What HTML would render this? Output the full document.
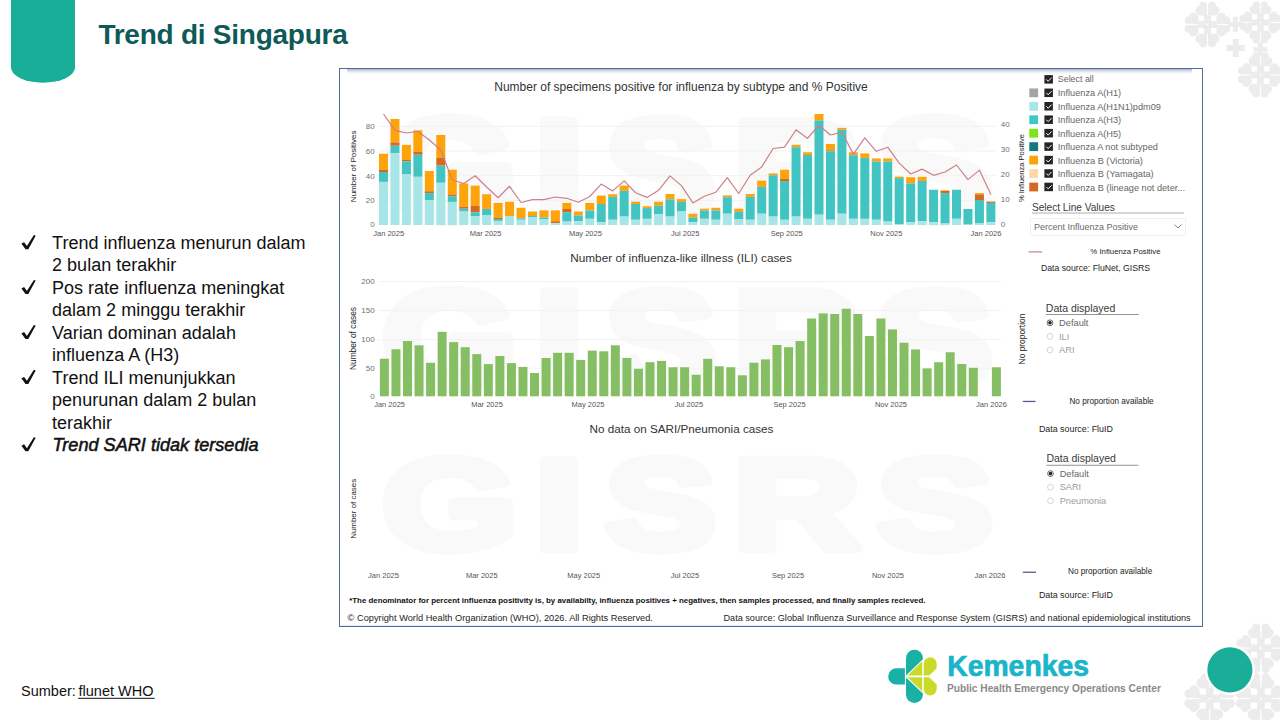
<!DOCTYPE html><html><head><meta charset="utf-8"><style>html,body{margin:0;padding:0;background:#fff;width:1280px;height:720px;overflow:hidden}svg{display:block}text{font-family:"Liberation Sans",sans-serif}</style></head><body>
<svg width="1280" height="720" viewBox="0 0 1280 720">
<defs><linearGradient id="topsh" x1="0" y1="0" x2="0" y2="1"><stop offset="0" stop-color="#a9b3cc"/><stop offset="1" stop-color="#ffffff" stop-opacity="0"/></linearGradient><linearGradient id="topsh2" x1="0" y1="0" x2="1" y2="0"><stop offset="0" stop-color="#ffffff" stop-opacity="0"/><stop offset="1" stop-color="#c4cbdf" stop-opacity="0.8"/></linearGradient></defs>
<g transform="translate(1207.5,24.5) scale(0.87)"><circle cx="21.50" cy="-5.00" r="4.6" fill="#ececec"/><circle cx="21.50" cy="5.00" r="4.6" fill="#ececec"/><circle cx="16.26" cy="9.19" r="4.6" fill="#ececec"/><circle cx="9.19" cy="16.26" r="4.6" fill="#ececec"/><circle cx="5.00" cy="21.50" r="4.6" fill="#ececec"/><circle cx="-5.00" cy="21.50" r="4.6" fill="#ececec"/><circle cx="-9.19" cy="16.26" r="4.6" fill="#ececec"/><circle cx="-16.26" cy="9.19" r="4.6" fill="#ececec"/><circle cx="-21.50" cy="5.00" r="4.6" fill="#ececec"/><circle cx="-21.50" cy="-5.00" r="4.6" fill="#ececec"/><circle cx="-16.26" cy="-9.19" r="4.6" fill="#ececec"/><circle cx="-9.19" cy="-16.26" r="4.6" fill="#ececec"/><circle cx="-5.00" cy="-21.50" r="4.6" fill="#ececec"/><circle cx="5.00" cy="-21.50" r="4.6" fill="#ececec"/><circle cx="9.19" cy="-16.26" r="4.6" fill="#ececec"/><circle cx="16.26" cy="-9.19" r="4.6" fill="#ececec"/><circle cx="0" cy="0" r="18.5" fill="#ececec"/><rect x="-10.40" y="-10.40" width="6.4" height="6.4" fill="#fff"/><rect x="4.00" y="-10.40" width="6.4" height="6.4" fill="#fff"/><rect x="-10.40" y="4.00" width="6.4" height="6.4" fill="#fff"/><rect x="4.00" y="4.00" width="6.4" height="6.4" fill="#fff"/><line x1="11.00" y1="0.00" x2="28.00" y2="0.00" stroke="#fff" stroke-width="1.1"/><line x1="7.78" y1="7.78" x2="19.80" y2="19.80" stroke="#fff" stroke-width="1.1"/><line x1="0.00" y1="11.00" x2="0.00" y2="28.00" stroke="#fff" stroke-width="1.1"/><line x1="-7.78" y1="7.78" x2="-19.80" y2="19.80" stroke="#fff" stroke-width="1.1"/><line x1="-11.00" y1="0.00" x2="-28.00" y2="0.00" stroke="#fff" stroke-width="1.1"/><line x1="-7.78" y1="-7.78" x2="-19.80" y2="-19.80" stroke="#fff" stroke-width="1.1"/><line x1="-0.00" y1="-11.00" x2="-0.00" y2="-28.00" stroke="#fff" stroke-width="1.1"/><line x1="7.78" y1="-7.78" x2="19.80" y2="-19.80" stroke="#fff" stroke-width="1.1"/><circle cx="0" cy="0" r="1.2" fill="#fff"/></g>
<g transform="translate(1260.4,22.5) scale(0.8)"><circle cx="21.50" cy="-5.00" r="4.6" fill="#ececec"/><circle cx="21.50" cy="5.00" r="4.6" fill="#ececec"/><circle cx="16.26" cy="9.19" r="4.6" fill="#ececec"/><circle cx="9.19" cy="16.26" r="4.6" fill="#ececec"/><circle cx="5.00" cy="21.50" r="4.6" fill="#ececec"/><circle cx="-5.00" cy="21.50" r="4.6" fill="#ececec"/><circle cx="-9.19" cy="16.26" r="4.6" fill="#ececec"/><circle cx="-16.26" cy="9.19" r="4.6" fill="#ececec"/><circle cx="-21.50" cy="5.00" r="4.6" fill="#ececec"/><circle cx="-21.50" cy="-5.00" r="4.6" fill="#ececec"/><circle cx="-16.26" cy="-9.19" r="4.6" fill="#ececec"/><circle cx="-9.19" cy="-16.26" r="4.6" fill="#ececec"/><circle cx="-5.00" cy="-21.50" r="4.6" fill="#ececec"/><circle cx="5.00" cy="-21.50" r="4.6" fill="#ececec"/><circle cx="9.19" cy="-16.26" r="4.6" fill="#ececec"/><circle cx="16.26" cy="-9.19" r="4.6" fill="#ececec"/><circle cx="0" cy="0" r="18.5" fill="#ececec"/><rect x="-10.40" y="-10.40" width="6.4" height="6.4" fill="#fff"/><rect x="4.00" y="-10.40" width="6.4" height="6.4" fill="#fff"/><rect x="-10.40" y="4.00" width="6.4" height="6.4" fill="#fff"/><rect x="4.00" y="4.00" width="6.4" height="6.4" fill="#fff"/><line x1="11.00" y1="0.00" x2="28.00" y2="0.00" stroke="#fff" stroke-width="1.1"/><line x1="7.78" y1="7.78" x2="19.80" y2="19.80" stroke="#fff" stroke-width="1.1"/><line x1="0.00" y1="11.00" x2="0.00" y2="28.00" stroke="#fff" stroke-width="1.1"/><line x1="-7.78" y1="7.78" x2="-19.80" y2="19.80" stroke="#fff" stroke-width="1.1"/><line x1="-11.00" y1="0.00" x2="-28.00" y2="0.00" stroke="#fff" stroke-width="1.1"/><line x1="-7.78" y1="-7.78" x2="-19.80" y2="-19.80" stroke="#fff" stroke-width="1.1"/><line x1="-0.00" y1="-11.00" x2="-0.00" y2="-28.00" stroke="#fff" stroke-width="1.1"/><line x1="7.78" y1="-7.78" x2="19.80" y2="-19.80" stroke="#fff" stroke-width="1.1"/><circle cx="0" cy="0" r="1.2" fill="#fff"/></g>
<g transform="translate(1260.4,75) scale(0.86)"><circle cx="21.50" cy="-5.00" r="4.6" fill="#ececec"/><circle cx="21.50" cy="5.00" r="4.6" fill="#ececec"/><circle cx="16.26" cy="9.19" r="4.6" fill="#ececec"/><circle cx="9.19" cy="16.26" r="4.6" fill="#ececec"/><circle cx="5.00" cy="21.50" r="4.6" fill="#ececec"/><circle cx="-5.00" cy="21.50" r="4.6" fill="#ececec"/><circle cx="-9.19" cy="16.26" r="4.6" fill="#ececec"/><circle cx="-16.26" cy="9.19" r="4.6" fill="#ececec"/><circle cx="-21.50" cy="5.00" r="4.6" fill="#ececec"/><circle cx="-21.50" cy="-5.00" r="4.6" fill="#ececec"/><circle cx="-16.26" cy="-9.19" r="4.6" fill="#ececec"/><circle cx="-9.19" cy="-16.26" r="4.6" fill="#ececec"/><circle cx="-5.00" cy="-21.50" r="4.6" fill="#ececec"/><circle cx="5.00" cy="-21.50" r="4.6" fill="#ececec"/><circle cx="9.19" cy="-16.26" r="4.6" fill="#ececec"/><circle cx="16.26" cy="-9.19" r="4.6" fill="#ececec"/><circle cx="0" cy="0" r="18.5" fill="#ececec"/><rect x="-10.40" y="-10.40" width="6.4" height="6.4" fill="#fff"/><rect x="4.00" y="-10.40" width="6.4" height="6.4" fill="#fff"/><rect x="-10.40" y="4.00" width="6.4" height="6.4" fill="#fff"/><rect x="4.00" y="4.00" width="6.4" height="6.4" fill="#fff"/><line x1="11.00" y1="0.00" x2="28.00" y2="0.00" stroke="#fff" stroke-width="1.1"/><line x1="7.78" y1="7.78" x2="19.80" y2="19.80" stroke="#fff" stroke-width="1.1"/><line x1="0.00" y1="11.00" x2="0.00" y2="28.00" stroke="#fff" stroke-width="1.1"/><line x1="-7.78" y1="7.78" x2="-19.80" y2="19.80" stroke="#fff" stroke-width="1.1"/><line x1="-11.00" y1="0.00" x2="-28.00" y2="0.00" stroke="#fff" stroke-width="1.1"/><line x1="-7.78" y1="-7.78" x2="-19.80" y2="-19.80" stroke="#fff" stroke-width="1.1"/><line x1="-0.00" y1="-11.00" x2="-0.00" y2="-28.00" stroke="#fff" stroke-width="1.1"/><line x1="7.78" y1="-7.78" x2="19.80" y2="-19.80" stroke="#fff" stroke-width="1.1"/><circle cx="0" cy="0" r="1.2" fill="#fff"/></g>
<path d="M1232.9,16.7h5.0v5.0h5.0v5.0h-5.0v5.0h-5.0v-5.0h-5.0v-5.0h5.0z" fill="#ececec"/>
<path d="M1232.7,39.1h6.0v6.0h6.0v6.0h-6.0v6.0h-6.0v-6.0h-6.0v-6.0h6.0z" fill="#ececec"/>
<path d="M1258.0666666666668,42.5h4.666666666666667v4.666666666666667h4.666666666666667v4.666666666666667h-4.666666666666667v4.666666666666667h-4.666666666666667v-4.666666666666667h-4.666666666666667v-4.666666666666667h4.666666666666667z" fill="#ececec"/>
<g transform="translate(1260.9,648.2) scale(0.95)"><circle cx="21.50" cy="-5.00" r="4.6" fill="#ececec"/><circle cx="21.50" cy="5.00" r="4.6" fill="#ececec"/><circle cx="16.26" cy="9.19" r="4.6" fill="#ececec"/><circle cx="9.19" cy="16.26" r="4.6" fill="#ececec"/><circle cx="5.00" cy="21.50" r="4.6" fill="#ececec"/><circle cx="-5.00" cy="21.50" r="4.6" fill="#ececec"/><circle cx="-9.19" cy="16.26" r="4.6" fill="#ececec"/><circle cx="-16.26" cy="9.19" r="4.6" fill="#ececec"/><circle cx="-21.50" cy="5.00" r="4.6" fill="#ececec"/><circle cx="-21.50" cy="-5.00" r="4.6" fill="#ececec"/><circle cx="-16.26" cy="-9.19" r="4.6" fill="#ececec"/><circle cx="-9.19" cy="-16.26" r="4.6" fill="#ececec"/><circle cx="-5.00" cy="-21.50" r="4.6" fill="#ececec"/><circle cx="5.00" cy="-21.50" r="4.6" fill="#ececec"/><circle cx="9.19" cy="-16.26" r="4.6" fill="#ececec"/><circle cx="16.26" cy="-9.19" r="4.6" fill="#ececec"/><circle cx="0" cy="0" r="18.5" fill="#ececec"/><rect x="-10.40" y="-10.40" width="6.4" height="6.4" fill="#fff"/><rect x="4.00" y="-10.40" width="6.4" height="6.4" fill="#fff"/><rect x="-10.40" y="4.00" width="6.4" height="6.4" fill="#fff"/><rect x="4.00" y="4.00" width="6.4" height="6.4" fill="#fff"/><line x1="11.00" y1="0.00" x2="28.00" y2="0.00" stroke="#fff" stroke-width="1.1"/><line x1="7.78" y1="7.78" x2="19.80" y2="19.80" stroke="#fff" stroke-width="1.1"/><line x1="0.00" y1="11.00" x2="0.00" y2="28.00" stroke="#fff" stroke-width="1.1"/><line x1="-7.78" y1="7.78" x2="-19.80" y2="19.80" stroke="#fff" stroke-width="1.1"/><line x1="-11.00" y1="0.00" x2="-28.00" y2="0.00" stroke="#fff" stroke-width="1.1"/><line x1="-7.78" y1="-7.78" x2="-19.80" y2="-19.80" stroke="#fff" stroke-width="1.1"/><line x1="-0.00" y1="-11.00" x2="-0.00" y2="-28.00" stroke="#fff" stroke-width="1.1"/><line x1="7.78" y1="-7.78" x2="19.80" y2="-19.80" stroke="#fff" stroke-width="1.1"/><circle cx="0" cy="0" r="1.2" fill="#fff"/></g>
<g transform="translate(1209.7,698.6) scale(0.97)"><circle cx="21.50" cy="-5.00" r="4.6" fill="#ececec"/><circle cx="21.50" cy="5.00" r="4.6" fill="#ececec"/><circle cx="16.26" cy="9.19" r="4.6" fill="#ececec"/><circle cx="9.19" cy="16.26" r="4.6" fill="#ececec"/><circle cx="5.00" cy="21.50" r="4.6" fill="#ececec"/><circle cx="-5.00" cy="21.50" r="4.6" fill="#ececec"/><circle cx="-9.19" cy="16.26" r="4.6" fill="#ececec"/><circle cx="-16.26" cy="9.19" r="4.6" fill="#ececec"/><circle cx="-21.50" cy="5.00" r="4.6" fill="#ececec"/><circle cx="-21.50" cy="-5.00" r="4.6" fill="#ececec"/><circle cx="-16.26" cy="-9.19" r="4.6" fill="#ececec"/><circle cx="-9.19" cy="-16.26" r="4.6" fill="#ececec"/><circle cx="-5.00" cy="-21.50" r="4.6" fill="#ececec"/><circle cx="5.00" cy="-21.50" r="4.6" fill="#ececec"/><circle cx="9.19" cy="-16.26" r="4.6" fill="#ececec"/><circle cx="16.26" cy="-9.19" r="4.6" fill="#ececec"/><circle cx="0" cy="0" r="18.5" fill="#ececec"/><rect x="-10.40" y="-10.40" width="6.4" height="6.4" fill="#fff"/><rect x="4.00" y="-10.40" width="6.4" height="6.4" fill="#fff"/><rect x="-10.40" y="4.00" width="6.4" height="6.4" fill="#fff"/><rect x="4.00" y="4.00" width="6.4" height="6.4" fill="#fff"/><line x1="11.00" y1="0.00" x2="28.00" y2="0.00" stroke="#fff" stroke-width="1.1"/><line x1="7.78" y1="7.78" x2="19.80" y2="19.80" stroke="#fff" stroke-width="1.1"/><line x1="0.00" y1="11.00" x2="0.00" y2="28.00" stroke="#fff" stroke-width="1.1"/><line x1="-7.78" y1="7.78" x2="-19.80" y2="19.80" stroke="#fff" stroke-width="1.1"/><line x1="-11.00" y1="0.00" x2="-28.00" y2="0.00" stroke="#fff" stroke-width="1.1"/><line x1="-7.78" y1="-7.78" x2="-19.80" y2="-19.80" stroke="#fff" stroke-width="1.1"/><line x1="-0.00" y1="-11.00" x2="-0.00" y2="-28.00" stroke="#fff" stroke-width="1.1"/><line x1="7.78" y1="-7.78" x2="19.80" y2="-19.80" stroke="#fff" stroke-width="1.1"/><circle cx="0" cy="0" r="1.2" fill="#fff"/></g>
<g transform="translate(1260.9,698.6) scale(0.97)"><circle cx="21.50" cy="-5.00" r="4.6" fill="#ececec"/><circle cx="21.50" cy="5.00" r="4.6" fill="#ececec"/><circle cx="16.26" cy="9.19" r="4.6" fill="#ececec"/><circle cx="9.19" cy="16.26" r="4.6" fill="#ececec"/><circle cx="5.00" cy="21.50" r="4.6" fill="#ececec"/><circle cx="-5.00" cy="21.50" r="4.6" fill="#ececec"/><circle cx="-9.19" cy="16.26" r="4.6" fill="#ececec"/><circle cx="-16.26" cy="9.19" r="4.6" fill="#ececec"/><circle cx="-21.50" cy="5.00" r="4.6" fill="#ececec"/><circle cx="-21.50" cy="-5.00" r="4.6" fill="#ececec"/><circle cx="-16.26" cy="-9.19" r="4.6" fill="#ececec"/><circle cx="-9.19" cy="-16.26" r="4.6" fill="#ececec"/><circle cx="-5.00" cy="-21.50" r="4.6" fill="#ececec"/><circle cx="5.00" cy="-21.50" r="4.6" fill="#ececec"/><circle cx="9.19" cy="-16.26" r="4.6" fill="#ececec"/><circle cx="16.26" cy="-9.19" r="4.6" fill="#ececec"/><circle cx="0" cy="0" r="18.5" fill="#ececec"/><rect x="-10.40" y="-10.40" width="6.4" height="6.4" fill="#fff"/><rect x="4.00" y="-10.40" width="6.4" height="6.4" fill="#fff"/><rect x="-10.40" y="4.00" width="6.4" height="6.4" fill="#fff"/><rect x="4.00" y="4.00" width="6.4" height="6.4" fill="#fff"/><line x1="11.00" y1="0.00" x2="28.00" y2="0.00" stroke="#fff" stroke-width="1.1"/><line x1="7.78" y1="7.78" x2="19.80" y2="19.80" stroke="#fff" stroke-width="1.1"/><line x1="0.00" y1="11.00" x2="0.00" y2="28.00" stroke="#fff" stroke-width="1.1"/><line x1="-7.78" y1="7.78" x2="-19.80" y2="19.80" stroke="#fff" stroke-width="1.1"/><line x1="-11.00" y1="0.00" x2="-28.00" y2="0.00" stroke="#fff" stroke-width="1.1"/><line x1="-7.78" y1="-7.78" x2="-19.80" y2="-19.80" stroke="#fff" stroke-width="1.1"/><line x1="-0.00" y1="-11.00" x2="-0.00" y2="-28.00" stroke="#fff" stroke-width="1.1"/><line x1="7.78" y1="-7.78" x2="19.80" y2="-19.80" stroke="#fff" stroke-width="1.1"/><circle cx="0" cy="0" r="1.2" fill="#fff"/></g>
<path d="M1232.8333333333333,665.5h5.333333333333333v5.333333333333333h5.333333333333333v5.333333333333333h-5.333333333333333v5.333333333333333h-5.333333333333333v-5.333333333333333h-5.333333333333333v-5.333333333333333h5.333333333333333z" fill="#ececec"/>
<circle cx="1229.9" cy="669.9" r="25" fill="#fff"/>
<circle cx="1229.9" cy="669.9" r="22.6" fill="#1aae98"/>
<path d="M11,-2 H75 V67.5 A32,15.2 0 0 1 11,67.5 Z" fill="#19ae97"/>
<text x="98.40" y="43.80" font-size="28" fill="#0d5a57" text-anchor="start" font-weight="bold" font-style="normal" letter-spacing="-0.25">Trend di Singapura</text>
<text x="52.10" y="248.90" font-size="18" fill="#111" text-anchor="start" font-weight="normal" font-style="normal" >Trend influenza menurun dalam</text>
<path d="M21.4,243.60 L24.1,242.20 L26.9,246.10 L33.9,235.10 L35.7,235.70 L28.3,249.20 L25.5,249.20 Z" fill="#111"/>
<text x="52.10" y="271.35" font-size="18" fill="#111" text-anchor="start" font-weight="normal" font-style="normal" >2 bulan terakhir</text>
<text x="52.10" y="293.80" font-size="18" fill="#111" text-anchor="start" font-weight="normal" font-style="normal" >Pos rate influenza meningkat</text>
<path d="M21.4,288.50 L24.1,287.10 L26.9,291.00 L33.9,280.00 L35.7,280.60 L28.3,294.10 L25.5,294.10 Z" fill="#111"/>
<text x="52.10" y="316.25" font-size="18" fill="#111" text-anchor="start" font-weight="normal" font-style="normal" >dalam 2 minggu terakhir</text>
<text x="52.10" y="338.70" font-size="18" fill="#111" text-anchor="start" font-weight="normal" font-style="normal" >Varian dominan adalah</text>
<path d="M21.4,333.40 L24.1,332.00 L26.9,335.90 L33.9,324.90 L35.7,325.50 L28.3,339.00 L25.5,339.00 Z" fill="#111"/>
<text x="52.10" y="361.15" font-size="18" fill="#111" text-anchor="start" font-weight="normal" font-style="normal" >influenza A (H3)</text>
<text x="52.10" y="383.60" font-size="18" fill="#111" text-anchor="start" font-weight="normal" font-style="normal" >Trend ILI menunjukkan</text>
<path d="M21.4,378.30 L24.1,376.90 L26.9,380.80 L33.9,369.80 L35.7,370.40 L28.3,383.90 L25.5,383.90 Z" fill="#111"/>
<text x="52.10" y="406.05" font-size="18" fill="#111" text-anchor="start" font-weight="normal" font-style="normal" >penurunan dalam 2 bulan</text>
<text x="52.10" y="428.50" font-size="18" fill="#111" text-anchor="start" font-weight="normal" font-style="normal" >terakhir</text>
<text x="52.60" y="450.95" font-size="18.5" fill="#111" text-anchor="start" font-weight="normal" font-style="italic" textLength="206" lengthAdjust="spacingAndGlyphs" stroke="#111" stroke-width="0.55">Trend SARI tidak tersedia</text>
<path d="M21.4,445.65 L24.1,444.25 L26.9,448.15 L33.9,437.15 L35.7,437.75 L28.3,451.25 L25.5,451.25 Z" fill="#111"/>
<text x="21.00" y="696.00" font-size="14.5" fill="#111" text-anchor="start" font-weight="normal" font-style="normal" >Sumber: </text>
<text x="78.5" y="696" font-size="14.5" fill="#111">flunet WHO</text>
<rect x="78.1" y="697.8" width="76.6" height="1" fill="#111"/>
<path d="M904.9,668.3 H896.3 A8.1,8.1 0 0 0 896.3,684.5 H904.9 Z" fill="#1ab1a5"/>
<path d="M906,675.4 V658.2 A8.45,8.45 0 0 1 922.9,658.2 V659.2 Z" fill="#1ab1a5"/>
<path d="M906,677.4 V694.6 A8.45,8.45 0 0 0 922.9,694.6 V693.6 Z" fill="#1ab1a5"/>
<path d="M907.6,675.6 L922.2,661.2 V675.6 Z" fill="#c9da2b"/>
<path d="M907.6,677.2 L922.2,691.6 V677.2 Z" fill="#c9da2b"/>
<path d="M923.7,675.6 V663.8 A6.5,6.5 0 0 1 936.7,663.8 V668.3 L929.2,675.6 Z" fill="#c9da2b"/>
<path d="M923.7,677.2 V689 A6.5,6.5 0 0 0 936.7,689 V684.5 L929.2,677.2 Z" fill="#c9da2b"/>
<text x="947.20" y="676.00" font-size="29.5" fill="#1ab5ca" text-anchor="start" font-weight="bold" font-style="normal" textLength="141.8" lengthAdjust="spacingAndGlyphs" stroke="#1ab5ca" stroke-width="0.7">Kemenkes</text>
<text x="946.90" y="692.40" font-size="10.2" fill="#8a8a8a" text-anchor="start" font-weight="bold" font-style="normal" textLength="214" lengthAdjust="spacingAndGlyphs">Public Health Emergency Operations Center</text>
<rect x="339.5" y="68.5" width="863" height="558" fill="#fff" stroke="#566b99" stroke-width="1"/>
<rect x="341" y="625" width="860" height="1" fill="#e1e8f6"/>
<rect x="347" y="69" width="845" height="6" fill="url(#topsh)"/>
<text transform="translate(381.87,219.95) scale(1.210,1)" font-size="143.8" font-weight="bold" fill="#f9f9f9" stroke="#f9f9f9" stroke-width="10.1" stroke-linejoin="round">G</text>
<text transform="translate(534.31,219.95) scale(1.240,1)" font-size="143.8" font-weight="bold" fill="#f9f9f9" stroke="#f9f9f9" stroke-width="10.1" stroke-linejoin="round">I</text>
<text transform="translate(604.82,219.95) scale(1.163,1)" font-size="143.8" font-weight="bold" fill="#f9f9f9" stroke="#f9f9f9" stroke-width="10.1" stroke-linejoin="round">S</text>
<text transform="translate(732.76,219.95) scale(1.231,1)" font-size="143.8" font-weight="bold" fill="#f9f9f9" stroke="#f9f9f9" stroke-width="10.1" stroke-linejoin="round">R</text>
<text transform="translate(876.57,219.95) scale(1.216,1)" font-size="143.8" font-weight="bold" fill="#f9f9f9" stroke="#f9f9f9" stroke-width="10.1" stroke-linejoin="round">S</text>
<text transform="translate(381.88,387.20) scale(1.275,1)" font-size="136.5" font-weight="bold" fill="#f9f9f9" stroke="#f9f9f9" stroke-width="9.6" stroke-linejoin="round">G</text>
<text transform="translate(534.32,387.20) scale(1.305,1)" font-size="136.5" font-weight="bold" fill="#f9f9f9" stroke="#f9f9f9" stroke-width="9.6" stroke-linejoin="round">I</text>
<text transform="translate(604.83,387.20) scale(1.225,1)" font-size="136.5" font-weight="bold" fill="#f9f9f9" stroke="#f9f9f9" stroke-width="9.6" stroke-linejoin="round">S</text>
<text transform="translate(732.76,387.20) scale(1.296,1)" font-size="136.5" font-weight="bold" fill="#f9f9f9" stroke="#f9f9f9" stroke-width="9.6" stroke-linejoin="round">R</text>
<text transform="translate(876.57,387.20) scale(1.280,1)" font-size="136.5" font-weight="bold" fill="#f9f9f9" stroke="#f9f9f9" stroke-width="9.6" stroke-linejoin="round">S</text>
<text transform="translate(381.89,548.90) scale(1.360,1)" font-size="127.9" font-weight="bold" fill="#f9f9f9" stroke="#f9f9f9" stroke-width="9.0" stroke-linejoin="round">G</text>
<text transform="translate(534.33,548.90) scale(1.392,1)" font-size="127.9" font-weight="bold" fill="#f9f9f9" stroke="#f9f9f9" stroke-width="9.0" stroke-linejoin="round">I</text>
<text transform="translate(604.83,548.90) scale(1.307,1)" font-size="127.9" font-weight="bold" fill="#f9f9f9" stroke="#f9f9f9" stroke-width="9.0" stroke-linejoin="round">S</text>
<text transform="translate(732.77,548.90) scale(1.383,1)" font-size="127.9" font-weight="bold" fill="#f9f9f9" stroke="#f9f9f9" stroke-width="9.0" stroke-linejoin="round">R</text>
<text transform="translate(876.58,548.90) scale(1.366,1)" font-size="127.9" font-weight="bold" fill="#f9f9f9" stroke="#f9f9f9" stroke-width="9.0" stroke-linejoin="round">S</text>
<text x="681.00" y="90.80" font-size="12" fill="#333" text-anchor="middle" font-weight="normal" font-style="normal" >Number of specimens positive for influenza by subtype and % Positive</text>
<rect x="378" y="125.8" width="618" height="1" fill="#f2f2f2"/>
<rect x="378" y="150.5" width="618" height="1" fill="#f2f2f2"/>
<rect x="378" y="175.1" width="618" height="1" fill="#f2f2f2"/>
<rect x="378" y="199.8" width="618" height="1" fill="#f2f2f2"/>
<text x="374.70" y="129.00" font-size="8" fill="#707070" text-anchor="end" font-weight="normal" font-style="normal" >80</text>
<text x="374.70" y="153.90" font-size="8" fill="#707070" text-anchor="end" font-weight="normal" font-style="normal" >60</text>
<text x="374.70" y="178.60" font-size="8" fill="#707070" text-anchor="end" font-weight="normal" font-style="normal" >40</text>
<text x="374.70" y="203.00" font-size="8" fill="#707070" text-anchor="end" font-weight="normal" font-style="normal" >20</text>
<text x="374.70" y="227.40" font-size="8" fill="#707070" text-anchor="end" font-weight="normal" font-style="normal" >0</text>
<text x="1000.70" y="126.70" font-size="8" fill="#707070" text-anchor="start" font-weight="normal" font-style="normal" >40</text>
<text x="1000.70" y="152.40" font-size="8" fill="#707070" text-anchor="start" font-weight="normal" font-style="normal" >30</text>
<text x="1000.70" y="177.00" font-size="8" fill="#707070" text-anchor="start" font-weight="normal" font-style="normal" >20</text>
<text x="1000.70" y="202.10" font-size="8" fill="#707070" text-anchor="start" font-weight="normal" font-style="normal" >10</text>
<text x="1000.70" y="227.40" font-size="8" fill="#707070" text-anchor="start" font-weight="normal" font-style="normal" >0</text>
<text transform="translate(356.0,166.35) rotate(-90)" font-size="8" fill="#1e1e1e" text-anchor="middle">Number of Positives</text>
<text transform="translate(1023.9,168.1) rotate(-90)" font-size="7.55" fill="#151515" text-anchor="middle">% Influenza Positive</text>
<text x="388.70" y="235.80" font-size="7.5" fill="#555" text-anchor="middle" font-weight="normal" font-style="normal" >Jan 2025</text>
<text x="485.60" y="235.80" font-size="7.5" fill="#555" text-anchor="middle" font-weight="normal" font-style="normal" >Mar 2025</text>
<text x="585.40" y="235.80" font-size="7.5" fill="#555" text-anchor="middle" font-weight="normal" font-style="normal" >May 2025</text>
<text x="685.30" y="235.80" font-size="7.5" fill="#555" text-anchor="middle" font-weight="normal" font-style="normal" >Jul 2025</text>
<text x="786.70" y="235.80" font-size="7.5" fill="#555" text-anchor="middle" font-weight="normal" font-style="normal" >Sep 2025</text>
<text x="886.40" y="235.80" font-size="7.5" fill="#555" text-anchor="middle" font-weight="normal" font-style="normal" >Nov 2025</text>
<text x="986.00" y="235.80" font-size="7.5" fill="#555" text-anchor="middle" font-weight="normal" font-style="normal" >Jan 2026</text>
<rect x="379.00" y="153.75" width="9.0" height="16.25" fill="#ffa30a"/>
<rect x="379.00" y="170.00" width="9.0" height="2.00" fill="#d4691f"/>
<rect x="379.00" y="172.00" width="9.0" height="9.90" fill="#42c4c2"/>
<rect x="379.00" y="181.90" width="9.0" height="43.10" fill="#a7e5e7"/>
<rect x="390.46" y="119.00" width="9.0" height="23.50" fill="#ffa30a"/>
<rect x="390.46" y="142.50" width="9.0" height="3.20" fill="#d4691f"/>
<rect x="390.46" y="145.70" width="9.0" height="7.50" fill="#42c4c2"/>
<rect x="390.46" y="153.20" width="9.0" height="71.80" fill="#a7e5e7"/>
<rect x="401.92" y="144.90" width="9.0" height="15.00" fill="#ffa30a"/>
<rect x="401.92" y="159.90" width="9.0" height="1.35" fill="#d4691f"/>
<rect x="401.92" y="161.25" width="9.0" height="13.15" fill="#42c4c2"/>
<rect x="401.92" y="174.40" width="9.0" height="50.60" fill="#a7e5e7"/>
<rect x="413.38" y="130.30" width="9.0" height="21.60" fill="#ffa30a"/>
<rect x="413.38" y="151.90" width="9.0" height="2.80" fill="#d4691f"/>
<rect x="413.38" y="154.70" width="9.0" height="22.10" fill="#42c4c2"/>
<rect x="413.38" y="176.80" width="9.0" height="48.20" fill="#a7e5e7"/>
<rect x="424.84" y="171.00" width="9.0" height="20.25" fill="#ffa30a"/>
<rect x="424.84" y="191.25" width="9.0" height="1.85" fill="#d4691f"/>
<rect x="424.84" y="193.10" width="9.0" height="6.90" fill="#42c4c2"/>
<rect x="424.84" y="200.00" width="9.0" height="25.00" fill="#a7e5e7"/>
<rect x="436.30" y="135.00" width="9.0" height="22.90" fill="#ffa30a"/>
<rect x="436.30" y="157.90" width="9.0" height="7.70" fill="#d4691f"/>
<rect x="436.30" y="165.60" width="9.0" height="17.20" fill="#42c4c2"/>
<rect x="436.30" y="182.80" width="9.0" height="42.20" fill="#a7e5e7"/>
<rect x="447.76" y="169.70" width="9.0" height="24.90" fill="#ffa30a"/>
<rect x="447.76" y="194.60" width="9.0" height="1.90" fill="#d4691f"/>
<rect x="447.76" y="196.50" width="9.0" height="5.40" fill="#42c4c2"/>
<rect x="447.76" y="201.90" width="9.0" height="23.10" fill="#a7e5e7"/>
<rect x="459.22" y="183.40" width="9.0" height="23.40" fill="#ffa30a"/>
<rect x="459.22" y="206.80" width="9.0" height="1.90" fill="#d4691f"/>
<rect x="459.22" y="208.70" width="9.0" height="2.80" fill="#42c4c2"/>
<rect x="459.22" y="211.50" width="9.0" height="13.50" fill="#a7e5e7"/>
<rect x="470.68" y="185.60" width="9.0" height="20.30" fill="#ffa30a"/>
<rect x="470.68" y="205.90" width="9.0" height="6.35" fill="#d4691f"/>
<rect x="470.68" y="212.25" width="9.0" height="3.75" fill="#42c4c2"/>
<rect x="470.68" y="216.00" width="9.0" height="9.00" fill="#a7e5e7"/>
<rect x="482.14" y="194.25" width="9.0" height="14.75" fill="#ffa30a"/>
<rect x="482.14" y="209.00" width="9.0" height="6.00" fill="#42c4c2"/>
<rect x="482.14" y="215.00" width="9.0" height="10.00" fill="#a7e5e7"/>
<rect x="493.60" y="202.90" width="9.0" height="15.00" fill="#ffa30a"/>
<rect x="493.60" y="217.90" width="9.0" height="1.10" fill="#d4691f"/>
<rect x="493.60" y="219.00" width="9.0" height="1.90" fill="#42c4c2"/>
<rect x="493.60" y="220.90" width="9.0" height="4.10" fill="#a7e5e7"/>
<rect x="505.06" y="201.75" width="9.0" height="14.25" fill="#ffa30a"/>
<rect x="505.06" y="216.00" width="9.0" height="9.00" fill="#a7e5e7"/>
<rect x="516.52" y="207.75" width="9.0" height="10.65" fill="#ffa30a"/>
<rect x="516.52" y="218.40" width="9.0" height="1.35" fill="#42c4c2"/>
<rect x="516.52" y="219.75" width="9.0" height="5.25" fill="#a7e5e7"/>
<rect x="527.98" y="211.50" width="9.0" height="4.50" fill="#ffa30a"/>
<rect x="527.98" y="216.00" width="9.0" height="1.00" fill="#42c4c2"/>
<rect x="527.98" y="217.00" width="9.0" height="8.00" fill="#a7e5e7"/>
<rect x="539.44" y="210.40" width="9.0" height="7.10" fill="#ffa30a"/>
<rect x="539.44" y="217.50" width="9.0" height="1.90" fill="#42c4c2"/>
<rect x="539.44" y="219.40" width="9.0" height="5.60" fill="#a7e5e7"/>
<rect x="550.90" y="210.40" width="9.0" height="10.85" fill="#ffa30a"/>
<rect x="550.90" y="221.25" width="9.0" height="1.85" fill="#d4691f"/>
<rect x="550.90" y="223.10" width="9.0" height="1.90" fill="#a7e5e7"/>
<rect x="562.36" y="202.90" width="9.0" height="6.10" fill="#ffa30a"/>
<rect x="562.36" y="209.00" width="9.0" height="3.25" fill="#d4691f"/>
<rect x="562.36" y="212.25" width="9.0" height="9.35" fill="#42c4c2"/>
<rect x="562.36" y="221.60" width="9.0" height="3.40" fill="#a7e5e7"/>
<rect x="573.82" y="211.50" width="9.0" height="4.10" fill="#ffa30a"/>
<rect x="573.82" y="215.60" width="9.0" height="5.65" fill="#42c4c2"/>
<rect x="573.82" y="221.25" width="9.0" height="3.75" fill="#a7e5e7"/>
<rect x="585.28" y="202.90" width="9.0" height="7.50" fill="#ffa30a"/>
<rect x="585.28" y="210.40" width="9.0" height="8.40" fill="#42c4c2"/>
<rect x="585.28" y="218.80" width="9.0" height="6.20" fill="#a7e5e7"/>
<rect x="596.74" y="195.60" width="9.0" height="8.40" fill="#ffa30a"/>
<rect x="596.74" y="204.00" width="9.0" height="18.20" fill="#42c4c2"/>
<rect x="596.74" y="222.20" width="9.0" height="2.80" fill="#a7e5e7"/>
<rect x="608.20" y="194.25" width="9.0" height="2.65" fill="#ffa30a"/>
<rect x="608.20" y="196.90" width="9.0" height="22.85" fill="#42c4c2"/>
<rect x="608.20" y="219.75" width="9.0" height="5.25" fill="#a7e5e7"/>
<rect x="619.66" y="185.60" width="9.0" height="5.30" fill="#ffa30a"/>
<rect x="619.66" y="190.90" width="9.0" height="25.70" fill="#42c4c2"/>
<rect x="619.66" y="216.60" width="9.0" height="8.40" fill="#a7e5e7"/>
<rect x="631.12" y="201.60" width="9.0" height="2.40" fill="#ffa30a"/>
<rect x="631.12" y="204.00" width="9.0" height="15.75" fill="#42c4c2"/>
<rect x="631.12" y="219.75" width="9.0" height="5.25" fill="#a7e5e7"/>
<rect x="642.58" y="206.25" width="9.0" height="1.85" fill="#ffa30a"/>
<rect x="642.58" y="208.10" width="9.0" height="10.70" fill="#42c4c2"/>
<rect x="642.58" y="218.80" width="9.0" height="6.20" fill="#a7e5e7"/>
<rect x="654.04" y="201.75" width="9.0" height="3.95" fill="#ffa30a"/>
<rect x="654.04" y="205.70" width="9.0" height="8.40" fill="#42c4c2"/>
<rect x="654.04" y="214.10" width="9.0" height="10.90" fill="#a7e5e7"/>
<rect x="665.50" y="194.00" width="9.0" height="5.30" fill="#ffa30a"/>
<rect x="665.50" y="199.30" width="9.0" height="17.30" fill="#42c4c2"/>
<rect x="665.50" y="216.60" width="9.0" height="8.40" fill="#a7e5e7"/>
<rect x="676.96" y="199.10" width="9.0" height="2.80" fill="#ffa30a"/>
<rect x="676.96" y="201.90" width="9.0" height="9.60" fill="#42c4c2"/>
<rect x="676.96" y="211.50" width="9.0" height="13.50" fill="#a7e5e7"/>
<rect x="688.42" y="213.75" width="9.0" height="3.75" fill="#ffa30a"/>
<rect x="688.42" y="217.50" width="9.0" height="4.70" fill="#42c4c2"/>
<rect x="688.42" y="222.20" width="9.0" height="2.80" fill="#a7e5e7"/>
<rect x="699.88" y="208.70" width="9.0" height="1.90" fill="#ffa30a"/>
<rect x="699.88" y="210.60" width="9.0" height="8.20" fill="#42c4c2"/>
<rect x="699.88" y="218.80" width="9.0" height="6.20" fill="#a7e5e7"/>
<rect x="711.34" y="207.75" width="9.0" height="2.65" fill="#ffa30a"/>
<rect x="711.34" y="210.40" width="9.0" height="9.35" fill="#42c4c2"/>
<rect x="711.34" y="219.75" width="9.0" height="5.25" fill="#a7e5e7"/>
<rect x="722.80" y="195.40" width="9.0" height="1.85" fill="#ffa30a"/>
<rect x="722.80" y="197.25" width="9.0" height="16.50" fill="#42c4c2"/>
<rect x="722.80" y="213.75" width="9.0" height="11.25" fill="#a7e5e7"/>
<rect x="734.26" y="208.70" width="9.0" height="3.20" fill="#ffa30a"/>
<rect x="734.26" y="211.90" width="9.0" height="7.10" fill="#42c4c2"/>
<rect x="734.26" y="219.00" width="9.0" height="6.00" fill="#a7e5e7"/>
<rect x="745.72" y="194.00" width="9.0" height="2.90" fill="#ffa30a"/>
<rect x="745.72" y="196.90" width="9.0" height="22.85" fill="#42c4c2"/>
<rect x="745.72" y="219.75" width="9.0" height="5.25" fill="#a7e5e7"/>
<rect x="757.18" y="180.60" width="9.0" height="6.30" fill="#ffa30a"/>
<rect x="757.18" y="186.90" width="9.0" height="26.85" fill="#42c4c2"/>
<rect x="757.18" y="213.75" width="9.0" height="11.25" fill="#a7e5e7"/>
<rect x="768.64" y="173.40" width="9.0" height="1.90" fill="#ffa30a"/>
<rect x="768.64" y="175.30" width="9.0" height="41.30" fill="#42c4c2"/>
<rect x="768.64" y="216.60" width="9.0" height="8.40" fill="#a7e5e7"/>
<rect x="780.10" y="169.70" width="9.0" height="9.30" fill="#ffa30a"/>
<rect x="780.10" y="179.00" width="9.0" height="2.00" fill="#d4691f"/>
<rect x="780.10" y="181.00" width="9.0" height="38.75" fill="#42c4c2"/>
<rect x="780.10" y="219.75" width="9.0" height="5.25" fill="#a7e5e7"/>
<rect x="791.56" y="144.75" width="9.0" height="2.45" fill="#ffa30a"/>
<rect x="791.56" y="147.20" width="9.0" height="69.40" fill="#42c4c2"/>
<rect x="791.56" y="216.60" width="9.0" height="8.40" fill="#a7e5e7"/>
<rect x="803.02" y="152.25" width="9.0" height="2.75" fill="#ffa30a"/>
<rect x="803.02" y="155.00" width="9.0" height="63.80" fill="#42c4c2"/>
<rect x="803.02" y="218.80" width="9.0" height="6.20" fill="#a7e5e7"/>
<rect x="814.48" y="114.00" width="9.0" height="6.40" fill="#ffa30a"/>
<rect x="814.48" y="120.40" width="9.0" height="94.30" fill="#42c4c2"/>
<rect x="814.48" y="214.70" width="9.0" height="10.30" fill="#a7e5e7"/>
<rect x="825.94" y="144.00" width="9.0" height="6.40" fill="#ffa30a"/>
<rect x="825.94" y="150.40" width="9.0" height="0.90" fill="#d4691f"/>
<rect x="825.94" y="151.30" width="9.0" height="68.45" fill="#42c4c2"/>
<rect x="825.94" y="219.75" width="9.0" height="5.25" fill="#a7e5e7"/>
<rect x="837.40" y="127.90" width="9.0" height="1.85" fill="#ffa30a"/>
<rect x="837.40" y="129.75" width="9.0" height="84.00" fill="#42c4c2"/>
<rect x="837.40" y="213.75" width="9.0" height="11.25" fill="#a7e5e7"/>
<rect x="848.86" y="152.25" width="9.0" height="3.00" fill="#ffa30a"/>
<rect x="848.86" y="155.25" width="9.0" height="63.55" fill="#42c4c2"/>
<rect x="848.86" y="218.80" width="9.0" height="6.20" fill="#a7e5e7"/>
<rect x="860.32" y="153.40" width="9.0" height="4.50" fill="#ffa30a"/>
<rect x="860.32" y="157.90" width="9.0" height="60.90" fill="#42c4c2"/>
<rect x="860.32" y="218.80" width="9.0" height="6.20" fill="#a7e5e7"/>
<rect x="871.78" y="158.40" width="9.0" height="3.20" fill="#ffa30a"/>
<rect x="871.78" y="161.60" width="9.0" height="58.15" fill="#42c4c2"/>
<rect x="871.78" y="219.75" width="9.0" height="5.25" fill="#a7e5e7"/>
<rect x="883.24" y="158.40" width="9.0" height="3.20" fill="#ffa30a"/>
<rect x="883.24" y="161.60" width="9.0" height="60.00" fill="#42c4c2"/>
<rect x="883.24" y="221.60" width="9.0" height="3.40" fill="#a7e5e7"/>
<rect x="894.70" y="176.60" width="9.0" height="1.50" fill="#ffa30a"/>
<rect x="894.70" y="178.10" width="9.0" height="45.90" fill="#42c4c2"/>
<rect x="894.70" y="224.00" width="9.0" height="1.00" fill="#a7e5e7"/>
<rect x="906.16" y="177.20" width="9.0" height="6.20" fill="#ffa30a"/>
<rect x="906.16" y="183.40" width="9.0" height="38.80" fill="#42c4c2"/>
<rect x="906.16" y="222.20" width="9.0" height="2.80" fill="#a7e5e7"/>
<rect x="917.62" y="176.80" width="9.0" height="3.80" fill="#ffa30a"/>
<rect x="917.62" y="180.60" width="9.0" height="0.40" fill="#d4691f"/>
<rect x="917.62" y="181.00" width="9.0" height="40.25" fill="#42c4c2"/>
<rect x="917.62" y="221.25" width="9.0" height="3.75" fill="#a7e5e7"/>
<rect x="929.08" y="189.75" width="9.0" height="32.45" fill="#42c4c2"/>
<rect x="929.08" y="222.20" width="9.0" height="2.80" fill="#a7e5e7"/>
<rect x="940.54" y="190.30" width="9.0" height="0.70" fill="#ffa30a"/>
<rect x="940.54" y="191.00" width="9.0" height="2.10" fill="#d4691f"/>
<rect x="940.54" y="193.10" width="9.0" height="30.40" fill="#42c4c2"/>
<rect x="940.54" y="223.50" width="9.0" height="1.50" fill="#a7e5e7"/>
<rect x="952.00" y="189.75" width="9.0" height="29.05" fill="#42c4c2"/>
<rect x="952.00" y="218.80" width="9.0" height="6.20" fill="#a7e5e7"/>
<rect x="963.46" y="209.00" width="9.0" height="15.60" fill="#42c4c2"/>
<rect x="963.46" y="224.60" width="9.0" height="0.40" fill="#a7e5e7"/>
<rect x="974.92" y="193.10" width="9.0" height="1.30" fill="#ffa30a"/>
<rect x="974.92" y="194.40" width="9.0" height="5.60" fill="#d4691f"/>
<rect x="974.92" y="200.00" width="9.0" height="23.50" fill="#42c4c2"/>
<rect x="974.92" y="223.50" width="9.0" height="1.50" fill="#a7e5e7"/>
<rect x="986.38" y="201.60" width="9.0" height="1.30" fill="#d4691f"/>
<rect x="986.38" y="202.90" width="9.0" height="19.30" fill="#42c4c2"/>
<rect x="986.38" y="222.20" width="9.0" height="2.80" fill="#a7e5e7"/>
<polyline points="383.50,114.00 394.96,130.40 406.42,133.00 417.88,131.50 429.34,140.00 440.80,150.00 452.26,180.00 463.72,183.50 475.18,175.70 486.64,187.00 498.10,197.70 509.56,186.30 521.02,202.50 532.48,199.60 543.94,199.60 555.40,197.00 566.86,198.30 578.32,202.20 589.78,196.50 601.24,184.10 612.70,190.90 624.16,180.90 635.62,192.75 647.08,197.40 658.54,190.30 670.00,175.90 681.46,185.60 692.92,202.90 704.38,196.30 715.84,192.20 727.30,177.60 738.76,193.50 750.22,175.30 761.68,166.90 773.14,148.50 784.60,147.20 796.06,129.75 807.52,138.40 818.98,125.25 830.44,135.00 841.90,132.20 853.36,154.10 864.82,137.80 876.28,151.30 887.74,147.20 899.20,163.10 910.66,174.00 922.12,169.10 933.58,175.30 945.04,172.00 956.50,165.00 967.96,179.60 979.42,170.10 990.88,194.60" fill="none" stroke="#cd8088" stroke-width="1.2" stroke-linejoin="round"/>
<rect x="1044.4" y="75.10" width="8.5" height="8.5" fill="#252423"/>
<path d="M1046.3,79.40 l1.9,1.9 l3.4,-3.6" fill="none" stroke="#fff" stroke-width="1"/>
<text x="1057.80" y="81.70" font-size="8.9" fill="#666" text-anchor="start" font-weight="normal" font-style="normal" >Select all</text>
<rect x="1029.3" y="88.45" width="8.8" height="8.8" fill="#a5a5a5"/>
<rect x="1044.4" y="88.55" width="8.5" height="8.5" fill="#252423"/>
<path d="M1046.3,92.85 l1.9,1.9 l3.4,-3.6" fill="none" stroke="#fff" stroke-width="1"/>
<text x="1057.80" y="96.45" font-size="9.2" fill="#666" text-anchor="start" font-weight="normal" font-style="normal" >Influenza A(H1)</text>
<rect x="1029.3" y="101.90" width="8.8" height="8.8" fill="#a5e7ea"/>
<rect x="1044.4" y="102.00" width="8.5" height="8.5" fill="#252423"/>
<path d="M1046.3,106.30 l1.9,1.9 l3.4,-3.6" fill="none" stroke="#fff" stroke-width="1"/>
<text x="1057.80" y="109.90" font-size="9.2" fill="#666" text-anchor="start" font-weight="normal" font-style="normal" >Influenza A(H1N1)pdm09</text>
<rect x="1029.3" y="115.35" width="8.8" height="8.8" fill="#3fc6c5"/>
<rect x="1044.4" y="115.45" width="8.5" height="8.5" fill="#252423"/>
<path d="M1046.3,119.75 l1.9,1.9 l3.4,-3.6" fill="none" stroke="#fff" stroke-width="1"/>
<text x="1057.80" y="123.35" font-size="9.2" fill="#666" text-anchor="start" font-weight="normal" font-style="normal" >Influenza A(H3)</text>
<rect x="1029.3" y="128.80" width="8.8" height="8.8" fill="#7fe31c"/>
<rect x="1044.4" y="128.90" width="8.5" height="8.5" fill="#252423"/>
<path d="M1046.3,133.20 l1.9,1.9 l3.4,-3.6" fill="none" stroke="#fff" stroke-width="1"/>
<text x="1057.80" y="136.80" font-size="9.2" fill="#666" text-anchor="start" font-weight="normal" font-style="normal" >Influenza A(H5)</text>
<rect x="1029.3" y="142.25" width="8.8" height="8.8" fill="#137a7b"/>
<rect x="1044.4" y="142.35" width="8.5" height="8.5" fill="#252423"/>
<path d="M1046.3,146.65 l1.9,1.9 l3.4,-3.6" fill="none" stroke="#fff" stroke-width="1"/>
<text x="1057.80" y="150.25" font-size="9.2" fill="#666" text-anchor="start" font-weight="normal" font-style="normal" >Influenza A not subtyped</text>
<rect x="1029.3" y="155.70" width="8.8" height="8.8" fill="#ffa30a"/>
<rect x="1044.4" y="155.80" width="8.5" height="8.5" fill="#252423"/>
<path d="M1046.3,160.10 l1.9,1.9 l3.4,-3.6" fill="none" stroke="#fff" stroke-width="1"/>
<text x="1057.80" y="163.70" font-size="9.2" fill="#666" text-anchor="start" font-weight="normal" font-style="normal" >Influenza B (Victoria)</text>
<rect x="1029.3" y="169.15" width="8.8" height="8.8" fill="#fdd7a8"/>
<rect x="1044.4" y="169.25" width="8.5" height="8.5" fill="#252423"/>
<path d="M1046.3,173.55 l1.9,1.9 l3.4,-3.6" fill="none" stroke="#fff" stroke-width="1"/>
<text x="1057.80" y="177.15" font-size="9.2" fill="#666" text-anchor="start" font-weight="normal" font-style="normal" >Influenza B (Yamagata)</text>
<rect x="1029.3" y="182.60" width="8.8" height="8.8" fill="#d4691f"/>
<rect x="1044.4" y="182.70" width="8.5" height="8.5" fill="#252423"/>
<path d="M1046.3,187.00 l1.9,1.9 l3.4,-3.6" fill="none" stroke="#fff" stroke-width="1"/>
<text x="1057.80" y="190.60" font-size="9.2" fill="#666" text-anchor="start" font-weight="normal" font-style="normal" >Influenza B (lineage not deter...</text>
<text x="1032.00" y="210.80" font-size="10.1" fill="#3a3a3a" text-anchor="start" font-weight="normal" font-style="normal" >Select Line Values</text>
<rect x="1032" y="212.6" width="152" height="0.8" fill="#9a9a9a"/>
<rect x="1030.5" y="218.5" width="155" height="17" fill="#fff" stroke="#f0f0f0" stroke-width="1"/>
<text x="1033.90" y="230.40" font-size="9" fill="#6a6a6a" text-anchor="start" font-weight="normal" font-style="normal" >Percent Influenza Positive</text>
<path d="M1174.5,224.5 l3.5,3.5 l3.5,-3.5" fill="none" stroke="#666" stroke-width="0.8"/>
<rect x="1028.6" y="251.3" width="13.6" height="1.2" fill="#cd8088"/>
<text x="1090.30" y="254.40" font-size="7.8" fill="#252423" text-anchor="start" font-weight="normal" font-style="normal" >% Influenza Positive</text>
<text x="1041.00" y="271.20" font-size="8.7" fill="#252423" text-anchor="start" font-weight="normal" font-style="normal" >Data source: FluNet, GISRS</text>
<text x="681.00" y="261.50" font-size="11.8" fill="#333" text-anchor="middle" font-weight="normal" font-style="normal" >Number of influenza-like illness (ILI) cases</text>
<rect x="378" y="281.1" width="623" height="1" fill="#f2f2f2"/>
<rect x="378" y="310.1" width="623" height="1" fill="#f2f2f2"/>
<rect x="378" y="339.2" width="623" height="1" fill="#f2f2f2"/>
<rect x="378" y="367.7" width="623" height="1" fill="#f2f2f2"/>
<text x="374.70" y="284.40" font-size="8" fill="#707070" text-anchor="end" font-weight="normal" font-style="normal" >200</text>
<text x="374.70" y="313.20" font-size="8" fill="#707070" text-anchor="end" font-weight="normal" font-style="normal" >150</text>
<text x="374.70" y="341.80" font-size="8" fill="#707070" text-anchor="end" font-weight="normal" font-style="normal" >100</text>
<text x="374.70" y="370.60" font-size="8" fill="#707070" text-anchor="end" font-weight="normal" font-style="normal" >50</text>
<text x="374.70" y="398.80" font-size="8" fill="#707070" text-anchor="end" font-weight="normal" font-style="normal" >0</text>
<text transform="translate(355.8,338.5) rotate(-90)" font-size="8.35" fill="#1e1e1e" text-anchor="middle">Number of cases</text>
<text x="389.60" y="407.00" font-size="7.5" fill="#555" text-anchor="middle" font-weight="normal" font-style="normal" >Jan 2025</text>
<text x="487.00" y="407.00" font-size="7.5" fill="#555" text-anchor="middle" font-weight="normal" font-style="normal" >Mar 2025</text>
<text x="588.00" y="407.00" font-size="7.5" fill="#555" text-anchor="middle" font-weight="normal" font-style="normal" >May 2025</text>
<text x="689.00" y="407.00" font-size="7.5" fill="#555" text-anchor="middle" font-weight="normal" font-style="normal" >Jul 2025</text>
<text x="789.50" y="407.00" font-size="7.5" fill="#555" text-anchor="middle" font-weight="normal" font-style="normal" >Sep 2025</text>
<text x="891.00" y="407.00" font-size="7.5" fill="#555" text-anchor="middle" font-weight="normal" font-style="normal" >Nov 2025</text>
<text x="991.50" y="407.00" font-size="7.5" fill="#555" text-anchor="middle" font-weight="normal" font-style="normal" >Jan 2026</text>
<rect x="379.90" y="358.70" width="9.0" height="37.60" fill="#86bf63"/>
<rect x="391.45" y="349.30" width="9.0" height="47.00" fill="#86bf63"/>
<rect x="402.99" y="341.00" width="9.0" height="55.30" fill="#86bf63"/>
<rect x="414.54" y="345.30" width="9.0" height="51.00" fill="#86bf63"/>
<rect x="426.09" y="362.80" width="9.0" height="33.50" fill="#86bf63"/>
<rect x="437.63" y="331.80" width="9.0" height="64.50" fill="#86bf63"/>
<rect x="449.18" y="342.10" width="9.0" height="54.20" fill="#86bf63"/>
<rect x="460.73" y="347.20" width="9.0" height="49.10" fill="#86bf63"/>
<rect x="472.28" y="354.10" width="9.0" height="42.20" fill="#86bf63"/>
<rect x="483.82" y="364.10" width="9.0" height="32.20" fill="#86bf63"/>
<rect x="495.37" y="356.00" width="9.0" height="40.30" fill="#86bf63"/>
<rect x="506.92" y="363.10" width="9.0" height="33.20" fill="#86bf63"/>
<rect x="518.46" y="366.90" width="9.0" height="29.40" fill="#86bf63"/>
<rect x="530.01" y="373.00" width="9.0" height="23.30" fill="#86bf63"/>
<rect x="541.56" y="358.00" width="9.0" height="38.30" fill="#86bf63"/>
<rect x="553.11" y="352.80" width="9.0" height="43.50" fill="#86bf63"/>
<rect x="564.65" y="352.80" width="9.0" height="43.50" fill="#86bf63"/>
<rect x="576.20" y="359.90" width="9.0" height="36.40" fill="#86bf63"/>
<rect x="587.75" y="350.60" width="9.0" height="45.70" fill="#86bf63"/>
<rect x="599.29" y="351.30" width="9.0" height="45.00" fill="#86bf63"/>
<rect x="610.84" y="345.30" width="9.0" height="51.00" fill="#86bf63"/>
<rect x="622.39" y="358.00" width="9.0" height="38.30" fill="#86bf63"/>
<rect x="633.93" y="368.75" width="9.0" height="27.55" fill="#86bf63"/>
<rect x="645.48" y="362.20" width="9.0" height="34.10" fill="#86bf63"/>
<rect x="657.03" y="360.90" width="9.0" height="35.40" fill="#86bf63"/>
<rect x="668.58" y="367.25" width="9.0" height="29.05" fill="#86bf63"/>
<rect x="680.12" y="367.25" width="9.0" height="29.05" fill="#86bf63"/>
<rect x="691.67" y="374.75" width="9.0" height="21.55" fill="#86bf63"/>
<rect x="703.22" y="358.80" width="9.0" height="37.50" fill="#86bf63"/>
<rect x="714.76" y="366.30" width="9.0" height="30.00" fill="#86bf63"/>
<rect x="726.31" y="367.25" width="9.0" height="29.05" fill="#86bf63"/>
<rect x="737.86" y="375.30" width="9.0" height="21.00" fill="#86bf63"/>
<rect x="749.40" y="362.75" width="9.0" height="33.55" fill="#86bf63"/>
<rect x="760.95" y="359.40" width="9.0" height="36.90" fill="#86bf63"/>
<rect x="772.50" y="345.00" width="9.0" height="51.30" fill="#86bf63"/>
<rect x="784.05" y="347.20" width="9.0" height="49.10" fill="#86bf63"/>
<rect x="795.59" y="341.00" width="9.0" height="55.30" fill="#86bf63"/>
<rect x="807.14" y="318.50" width="9.0" height="77.80" fill="#86bf63"/>
<rect x="818.69" y="313.40" width="9.0" height="82.90" fill="#86bf63"/>
<rect x="830.23" y="314.00" width="9.0" height="82.30" fill="#86bf63"/>
<rect x="841.78" y="308.75" width="9.0" height="87.55" fill="#86bf63"/>
<rect x="853.33" y="314.00" width="9.0" height="82.30" fill="#86bf63"/>
<rect x="864.87" y="336.00" width="9.0" height="60.30" fill="#86bf63"/>
<rect x="876.42" y="318.50" width="9.0" height="77.80" fill="#86bf63"/>
<rect x="887.97" y="329.40" width="9.0" height="66.90" fill="#86bf63"/>
<rect x="899.51" y="342.70" width="9.0" height="53.60" fill="#86bf63"/>
<rect x="911.06" y="349.40" width="9.0" height="46.90" fill="#86bf63"/>
<rect x="922.61" y="368.40" width="9.0" height="27.90" fill="#86bf63"/>
<rect x="934.16" y="362.20" width="9.0" height="34.10" fill="#86bf63"/>
<rect x="945.70" y="352.25" width="9.0" height="44.05" fill="#86bf63"/>
<rect x="957.25" y="364.00" width="9.0" height="32.30" fill="#86bf63"/>
<rect x="968.80" y="367.80" width="9.0" height="28.50" fill="#86bf63"/>
<rect x="991.89" y="367.25" width="9.0" height="29.05" fill="#86bf63"/>
<text transform="translate(1024.8,339) rotate(-90)" font-size="8.4" fill="#151515" text-anchor="middle">No proportion</text>
<text x="1045.80" y="311.50" font-size="10.5" fill="#3a3a3a" text-anchor="start" font-weight="normal" font-style="normal" >Data displayed</text>
<rect x="1045.8" y="314" width="93" height="0.9" fill="#888"/>
<circle cx="1050" cy="322.8" r="2.9" fill="#fff" stroke="#444" stroke-width="0.8"/>
<circle cx="1050" cy="322.8" r="1.8" fill="#222"/>
<text x="1059.00" y="326.00" font-size="9.3" fill="#666" text-anchor="start" font-weight="normal" font-style="normal" >Default</text>
<circle cx="1050" cy="336.4" r="2.9" fill="#fff" stroke="#ccc" stroke-width="0.8"/>
<text x="1059.00" y="339.60" font-size="9.3" fill="#9c9c9c" text-anchor="start" font-weight="normal" font-style="normal" >ILI</text>
<circle cx="1050" cy="350.0" r="2.9" fill="#fff" stroke="#ccc" stroke-width="0.8"/>
<text x="1059.00" y="353.20" font-size="9.3" fill="#9c9c9c" text-anchor="start" font-weight="normal" font-style="normal" >ARI</text>
<rect x="1022.8" y="400.8" width="12.7" height="1.3" fill="#565c98"/>
<text x="1069.40" y="403.80" font-size="8.2" fill="#252423" text-anchor="start" font-weight="normal" font-style="normal" >No proportion available</text>
<text x="1038.90" y="432.20" font-size="8.9" fill="#252423" text-anchor="start" font-weight="normal" font-style="normal" >Data source: FluID</text>
<text x="681.50" y="432.80" font-size="11.7" fill="#333" text-anchor="middle" font-weight="normal" font-style="normal" >No data on SARI/Pneumonia cases</text>
<text transform="translate(355.6,508.8) rotate(-90)" font-size="7.95" fill="#252423" text-anchor="middle">Number of cases</text>
<text x="383.50" y="577.50" font-size="7.5" fill="#555" text-anchor="middle" font-weight="normal" font-style="normal" >Jan 2025</text>
<text x="481.80" y="577.50" font-size="7.5" fill="#555" text-anchor="middle" font-weight="normal" font-style="normal" >Mar 2025</text>
<text x="583.70" y="577.50" font-size="7.5" fill="#555" text-anchor="middle" font-weight="normal" font-style="normal" >May 2025</text>
<text x="685.00" y="577.50" font-size="7.5" fill="#555" text-anchor="middle" font-weight="normal" font-style="normal" >Jul 2025</text>
<text x="788.00" y="577.50" font-size="7.5" fill="#555" text-anchor="middle" font-weight="normal" font-style="normal" >Sep 2025</text>
<text x="888.00" y="577.50" font-size="7.5" fill="#555" text-anchor="middle" font-weight="normal" font-style="normal" >Nov 2025</text>
<text x="990.00" y="577.50" font-size="7.5" fill="#555" text-anchor="middle" font-weight="normal" font-style="normal" >Jan 2026</text>
<text x="1046.40" y="462.00" font-size="10.5" fill="#3a3a3a" text-anchor="start" font-weight="normal" font-style="normal" >Data displayed</text>
<rect x="1046.4" y="464.8" width="92" height="0.9" fill="#888"/>
<circle cx="1050.5" cy="473.6" r="2.9" fill="#fff" stroke="#444" stroke-width="0.8"/>
<circle cx="1050.5" cy="473.6" r="1.8" fill="#222"/>
<text x="1059.70" y="476.80" font-size="9.2" fill="#666" text-anchor="start" font-weight="normal" font-style="normal" >Default</text>
<circle cx="1050.5" cy="487.2" r="2.9" fill="#fff" stroke="#ccc" stroke-width="0.8"/>
<text x="1059.70" y="490.40" font-size="9.2" fill="#9c9c9c" text-anchor="start" font-weight="normal" font-style="normal" >SARI</text>
<circle cx="1050.5" cy="500.8" r="2.9" fill="#fff" stroke="#ccc" stroke-width="0.8"/>
<text x="1059.70" y="504.00" font-size="9.2" fill="#9c9c9c" text-anchor="start" font-weight="normal" font-style="normal" >Pneumonia</text>
<rect x="1022.8" y="571.6" width="13.2" height="1.3" fill="#565c98"/>
<text x="1068.00" y="574.20" font-size="8.2" fill="#252423" text-anchor="start" font-weight="normal" font-style="normal" >No proportion available</text>
<text x="1038.90" y="597.60" font-size="8.9" fill="#252423" text-anchor="start" font-weight="normal" font-style="normal" >Data source: FluID</text>
<text x="349.20" y="603.20" font-size="7.9" fill="#111" text-anchor="start" font-weight="bold" font-style="normal" >*The denominator for percent influenza positivity is, by availabilty, influenza positives + negatives, then samples processed, and finally samples recieved.</text>
<text x="347.60" y="620.90" font-size="9.26" fill="#252423" text-anchor="start" font-weight="normal" font-style="normal" >© Copyright World Health Organization (WHO), 2026. All Rights Reserved.</text>
<text x="723.50" y="621.30" font-size="9.14" fill="#252423" text-anchor="start" font-weight="normal" font-style="normal" >Data source: Global Influenza Surveillance and Response System (GISRS) and national epidemiological institutions</text>
</svg></body></html>
